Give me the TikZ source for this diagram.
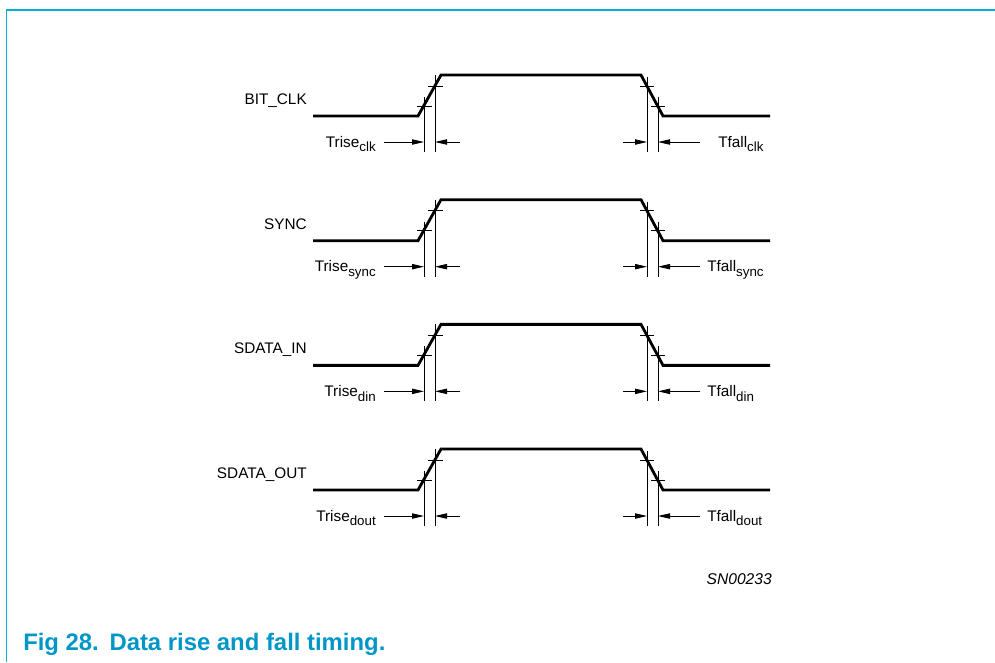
\documentclass[tikz,border=0pt]{standalone}
\usepackage{fontspec}
\setmainfont{Liberation Sans}
\usepackage{tikz}
\usetikzlibrary{arrows.meta}
\definecolor{frameblue}{RGB}{0,176,218}
\definecolor{capblue}{RGB}{0,150,200}
\tikzset{
  wave/.style={line width=2.1pt},
  guide/.style={line width=0.6pt},
  dimarrow/.style={line width=0.6pt,-{Triangle[length=9pt,width=4pt]}},
  siglabel/.style={font=\fontsize{11.5}{13}\selectfont,inner sep=0pt,anchor=base east},
  timelabel/.style={font=\fontsize{11.5}{13}\selectfont,inner sep=0pt}
}
\newcommand{\tsub}[1]{\raisebox{-3.5pt}{\fontsize{10}{11}\selectfont #1}}

\begin{document}
\begin{tikzpicture}[x=0.75pt,y=-0.75pt]
  \useasboundingbox (0,0) rectangle (995,662);
  \draw[frameblue,line width=1.4pt] (6.5,662) -- (6.5,10) -- (995,10);
  \foreach \name/\sub/\fx [count=\i] in {BIT\_CLK/clk/718,SYNC/sync/707,SDATA\_IN/din/707,SDATA\_OUT/dout/707}{
    \pgfmathsetmacro{\y}{116+124.67*(\i-1)}
    % waveform
    \coordinate (s\i) at (313,\y);
    \coordinate (r\i) at (418,\y);
    \coordinate (h\i) at (441,\y-41);
    \coordinate (f\i) at (641,\y-41);
    \coordinate (l\i) at (663,\y);
    \coordinate (e\i) at (770,\y);
    \draw[wave] (s\i) -- (r\i) -- (h\i) -- (f\i) -- (l\i) -- (e\i);
    \node[siglabel] (n\i) at (307,\y-11.5) {\name};
    % rise guides
    \coordinate (ra\i) at (424,\y+26);
    \coordinate (rb\i) at (435,\y+26);
    \draw[guide] (424,\y-19) -- (424,\y+36);
    \draw[guide] (435,\y-41) -- (435,\y+36);
    \draw[guide] (417,\y-10) -- (432,\y-10);
    \draw[guide] (428,\y-30) -- (443,\y-30);
    \coordinate (rt\i) at (384,\y+26);
    \coordinate (ru\i) at (460,\y+26);
    \draw[dimarrow] (rt\i) -- (ra\i);
    \draw[dimarrow] (ru\i) -- (rb\i);
    \node[timelabel,anchor=base east] (tr\i) at (376,\y+31) {Trise\tsub{\sub}};
    % fall guides
    \coordinate (fa\i) at (647,\y+26);
    \coordinate (fb\i) at (658,\y+26);
    \draw[guide] (647,\y-39) -- (647,\y+36);
    \draw[guide] (658,\y-19) -- (658,\y+36);
    \draw[guide] (640,\y-30) -- (654,\y-30);
    \draw[guide] (651,\y-10) -- (665,\y-10);
    \coordinate (ft\i) at (623,\y+26);
    \coordinate (fu\i) at (700,\y+26);
    \draw[dimarrow] (ft\i) -- (fa\i);
    \draw[dimarrow] (fu\i) -- (fb\i);
    \node[timelabel,anchor=base west] (tf\i) at (\fx,\y+31) {Tfall\tsub{\sub}};
  }
  \node[font=\fontsize{11.7}{13}\selectfont\itshape,inner sep=0pt,anchor=base east] (code) at (772,584) {SN00233};
  \node[font=\fontsize{17.9}{20}\selectfont\bfseries,text=capblue,inner sep=0pt,anchor=base west] (cap) at (23,650.5) {Fig 28.\hspace{8pt}Data rise and fall timing.};
\end{tikzpicture}
\end{document}
